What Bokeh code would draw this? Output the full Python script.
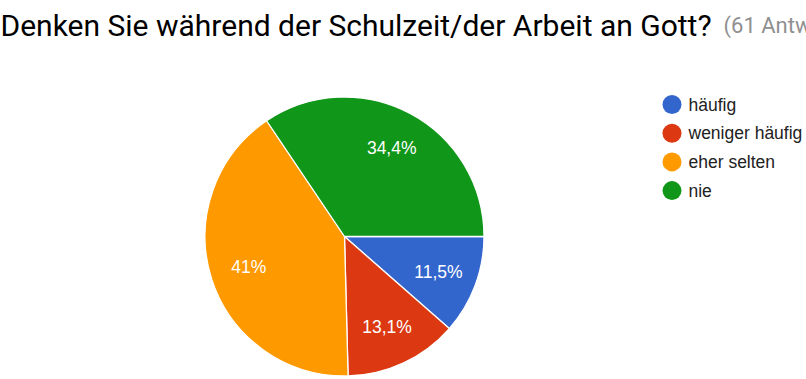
import math
from bokeh.plotting import figure
from bokeh.models import Range1d, ColumnDataSource
from bokeh.core.properties import value
from bokeh.embed import file_html
from bokeh.resources import INLINE

# ---- data ----
categories = ["häufig", "weniger häufig", "eher selten", "nie"]
counts = [7, 8, 25, 21]
colors = ["#3366cc", "#dc3912", "#ff9900", "#109618"]
title_text = "Denken Sie während der Schulzeit/der Arbeit an Gott?"
subtitle_text = "(61 Antworten)"

W, H = 806, 379
p = figure(width=W, height=H, x_range=Range1d(0, W), y_range=Range1d(0, H),
           output_backend="svg", toolbar_location=None, min_border=0,
           x_axis_location=None, y_axis_location=None)
p.grid.visible = False
p.outline_line_color = None
p.background_fill_color = "white"
p.border_fill_color = "white"


def Y(y):
    return H - y


# pie geometry (plot units == pixels)
cx, cy, r = 344, Y(236), 139.5
total = sum(counts)
fracs = [c / total for c in counts]
starts, ends = [], []
acc = 0.0
for f in fracs:
    # clockwise from 3 o'clock
    ends.append(-acc * 2 * math.pi)
    starts.append(-(acc + f) * 2 * math.pi)
    acc += f

src = ColumnDataSource(dict(start=starts, end=ends, color=colors, cat=categories))
p.wedge(x=cx, y=cy, radius=r, start_angle="start", end_angle="end",
        direction="anticlock", fill_color="color", line_color="white",
        line_width=1.3, source=src)

# slice labels
lab_x, lab_y, lab_t = [], [], []
lr = 0.72 * r
for s, e, c in zip(starts, ends, counts):
    m = (s + e) / 2
    lab_x.append(cx + lr * math.cos(m))
    lab_y.append(cy + lr * math.sin(m))
    pct = round(100 * c / total, 1)
    lab_t.append(("{:g}".format(pct)).replace(".", ",") + "%")
p.text(x=lab_x, y=lab_y, text=lab_t, text_color="white",
       text_font=value("Liberation Sans"), text_font_size="17.5px",
       text_align="center", text_baseline="middle")

# legend
leg_y = [Y(104 + i * 28.7) for i in range(len(categories))]
p.scatter(x=[671.5] * len(categories), y=leg_y, size=19, marker="circle",
          fill_color=colors, line_color=None)
p.text(x=[688] * len(categories), y=leg_y, text=categories, text_color="#222222",
       text_font=value("Liberation Sans"), text_font_size="17.5px",
       text_align="left", text_baseline="middle")

# title
p.text(x=[0], y=[Y(24.5)], text=[title_text], text_color="#000000",
       text_font=value("Roboto"), text_font_size="30px",
       text_align="left", text_baseline="alphabetic")
p.text(x=[723], y=[Y(24.5)], text=[subtitle_text], text_color="#909090",
       text_font=value("Roboto"), text_font_size="22px",
       text_align="left", text_baseline="alphabetic")

open("out.html", "w").write(file_html(p, INLINE))
